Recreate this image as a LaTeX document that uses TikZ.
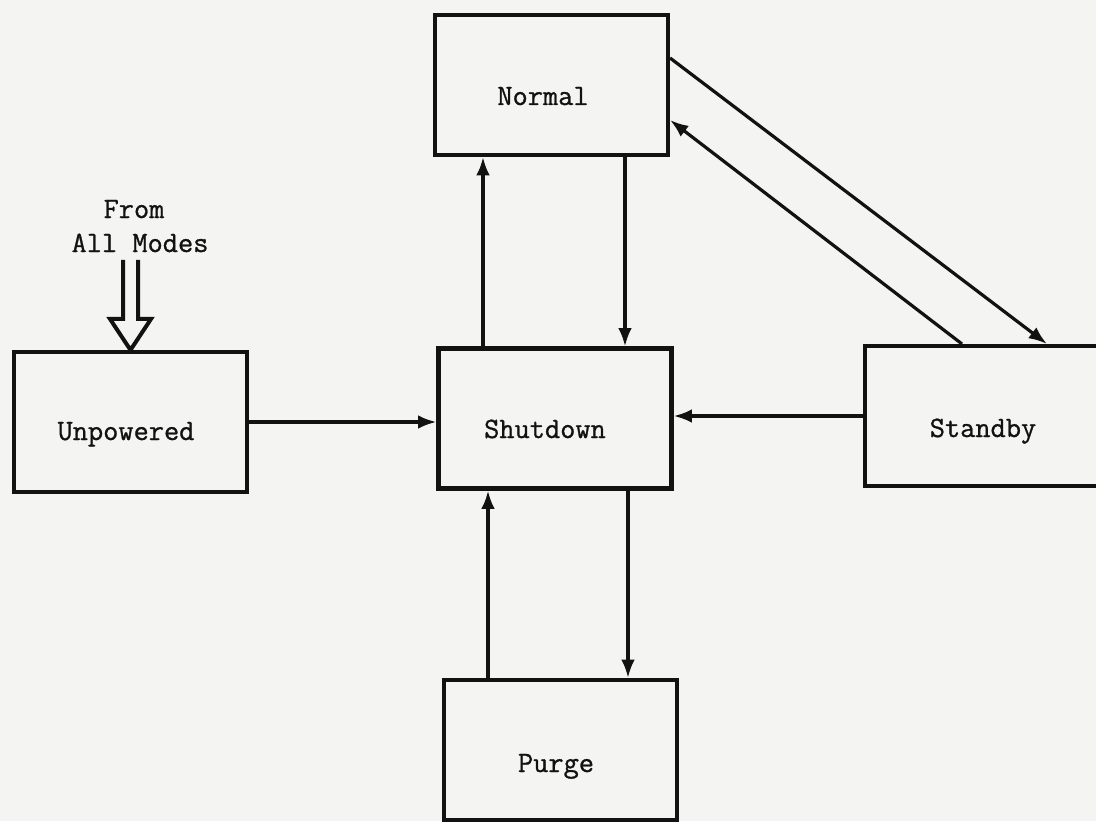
\documentclass[tikz,border=0pt]{standalone}
\usepackage{fontspec}
\newfontfamily\typew{Latin Modern Mono}[FakeBold=0.9]
\usetikzlibrary{arrows.meta,calc}
\definecolor{paper}{HTML}{F4F4F2}
\definecolor{ink}{HTML}{121212}
\begin{document}
\begin{tikzpicture}[x=0.025cm,y=-0.025cm,
  box/.style={draw=ink,line width=0.11cm,minimum width=5.815cm,minimum height=3.49cm,inner sep=0pt},
  lbl/.style={font=\fontsize{21}{25}\typew\bfseries,text=ink,anchor=base,inner sep=0pt},
  arr/.style={draw=ink,line width=0.08cm,-{Latex[length=0.46cm,width=0.34cm]}}]
\fill[paper] (0,0) rectangle (1096,821);
\useasboundingbox (0,0) rectangle (1096,821);

\node[box] (normal) at (551.5,85) {};
\node[box] (shutdown) at (555,418.5) {};
\node[box] (unpowered) at (130.5,422) {};
\node[box] (standby) at (981.5,416) {};
\node[box] (purge) at (560.5,750) {};

\node[lbl] (normalt) at (543,105) {Normal};
\node[lbl] (shutdownt) at (545,438) {Shutdown};
\node[lbl] (unpoweredt) at (126,440) {Unpowered};
\node[lbl] (standbyt) at (983,437) {Standby};
\node[lbl] (purget) at (556,772) {Purge};
\node[lbl] (fromt) at (134,218) {From};
\node[lbl] (allt) at (140,252) {All Modes};

\coordinate (a1) at ($(shutdown.north)+(-72,0)$);
\draw[arr] (a1) -- (a1 |- normal.south);
\coordinate (a2) at ($(normal.south)+(73.5,0)$);
\draw[arr] (a2) -- (a2 |- shutdown.north);
\coordinate (a3) at ($(purge.north)+(-72.5,0)$);
\draw[arr] (a3) -- (a3 |- shutdown.south);
\coordinate (a4) at ($(shutdown.south)+(73,0)$);
\draw[arr] (a4) -- (a4 |- purge.north);
\draw[arr] (unpowered.east) -- (unpowered.east -| shutdown.west);
\draw[arr] (standby.west) -- (standby.west -| shutdown.east);
\draw[arr] ($(normal.east)+(0,-27)$) -- ($(standby.north)+(65.5,0)$);
\draw[arr] ($(standby.north)+(-19.5,0)$) -- ($(normal.east)+(0,35)$);

\coordinate (tip) at (unpowered.north);
\draw[ink,line width=0.1cm,line join=miter]
  ($(tip)+(-7.5,-90)$) -- ($(tip)+(-7.5,-31)$) -- ($(tip)+(-20.5,-31)$) -- (tip)
  -- ($(tip)+(20.5,-31)$) -- ($(tip)+(7.5,-31)$) -- ($(tip)+(7.5,-90)$);
\end{tikzpicture}
\end{document}
